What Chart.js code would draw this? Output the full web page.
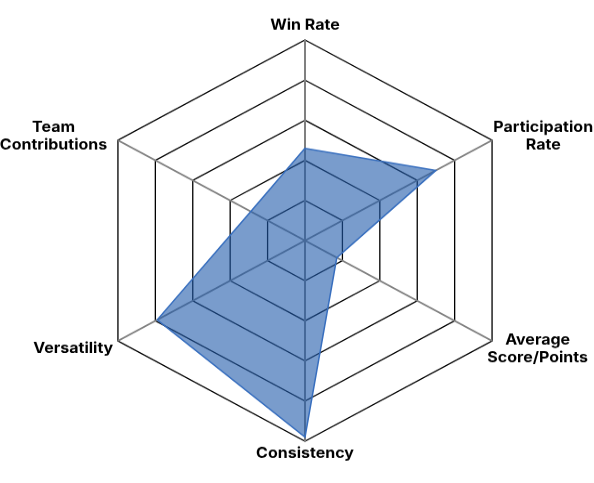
<!DOCTYPE html>
<html>
<head>
<meta charset="utf-8">
<script src="https://cdn.jsdelivr.net/npm/chart.js@4"></script>
<style>
  html, body { margin: 0; padding: 0; background: #fff; overflow: hidden; }
  #wrap { width: 594px; height: 520px; transform: scale(1, 0.9288); transform-origin: 0 0; }
</style>
</head>
<body>
<div id="wrap"><canvas id="myChart"></canvas></div>
<script>
// Dados
const categorias = [
    ['Win Rate'],
    ['Participation', 'Rate'],
    ['Average', 'Score/Points'],
    ['Consistency'],
    ['Versatility'],
    ['Team', 'Contributions']
];
const valores = [46, 70, 17, 98, 79, 29];
const escalaMin = 0;
const escalaMax = 100;
const escalaPasso = 20;

// Rótulos centralizados (desenhados pela escala r)
const fonteRotulo = 'bold 16px Inter';
const alturaLinha = 19;

const rotulosPlugin = {
    id: 'rotulos',
    afterDatasetsDraw(chart) {
        const scale = chart.scales.r;
        const c = chart.ctx;
        const r = scale.drawingArea;
        c.save();
        c.font = fonteRotulo;
        c.fillStyle = '#000';
        c.textAlign = 'center';
        c.textBaseline = 'middle';
        categorias.forEach((linhas, i) => {
            const v = scale.getPointPosition(i, r);
            const a = scale.getIndexAngle(i);
            const sinA = Math.sin(a), cosA = Math.cos(a);
            const w = Math.max(...linhas.map(t => c.measureText(t).width));
            const h = linhas.length * alturaLinha;
            let x = v.x, y = v.y - 14 * cosA;
            if (Math.abs(sinA) > 0.01) {
                const lado = sinA > 0 ? 1 : -1;
                x = v.x + lado * (w / 2 + 3 + 6 * cosA) - 4.7;
                y = v.y - 13 * cosA + 2;
            } else if (cosA > 0) {
                y = v.y - 16;
            } else {
                y = v.y + 13;
            }
            linhas.forEach((t, k) => {
                c.fillText(t, x, y - h / 2 + alturaLinha * (k + 0.5));
            });
        });
        c.restore();
    }
};

// Gráfico
const ctx = document.getElementById('myChart');
new Chart(ctx, {
    type: 'radar',
    data: {
        labels: categorias,
        datasets: [{
            label: 'Player',
            data: valores,
            backgroundColor: 'rgba(31, 90, 170, 0.6)',
            borderColor: 'rgba(55, 110, 190, 1)',
            borderWidth: 1.5,
            pointRadius: 0
        }]
    },
    options: {
        responsive: true,
        maintainAspectRatio: false,
        animation: false,
        layout: { padding: { left: 88, right: 72, top: 43, bottom: 44 } },
        plugins: {
            legend: { display: false },
            tooltip: { enabled: false }
        },
        scales: {
            r: {
                min: escalaMin,
                max: escalaMax,
                ticks: { stepSize: escalaPasso, display: false },
                grid: { color: '#000', lineWidth: 1.3 },
                angleLines: { color: '#808080', lineWidth: 2 },
                pointLabels: { display: false }
            }
        }
    },
    plugins: [rotulosPlugin]
});
</script>
</body>
</html>
